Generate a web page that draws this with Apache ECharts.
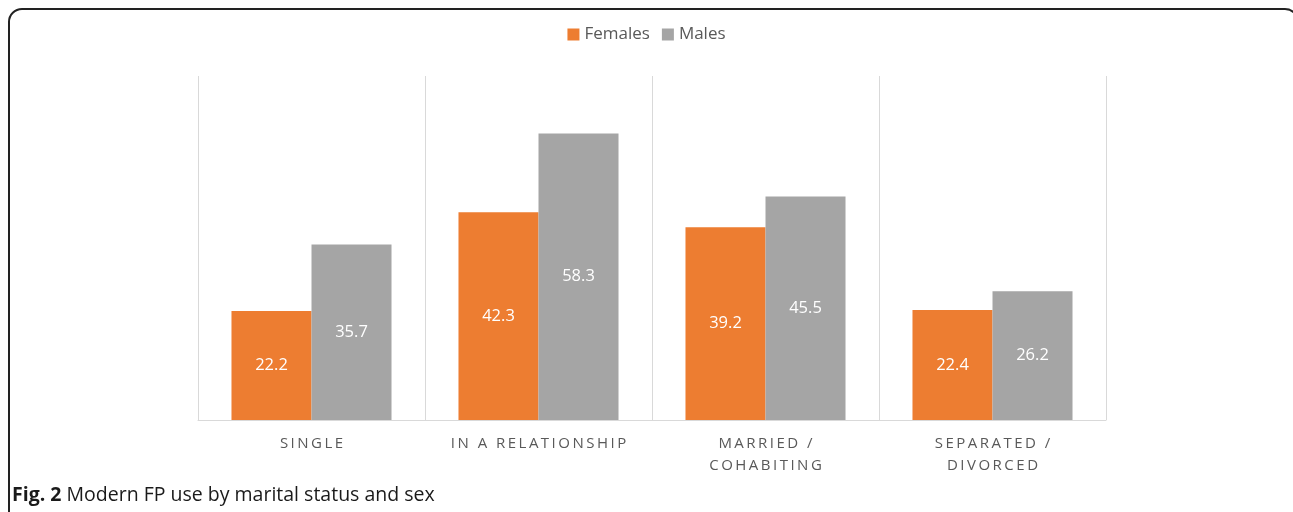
<!DOCTYPE html>
<html>
<head>
<meta charset="utf-8">
<script src="https://cdn.jsdelivr.net/npm/echarts@6/dist/echarts.min.js"></script>
<style>
  html, body { margin: 0; padding: 0; background: #fff; }
  #chart { width: 1293px; height: 512px; }
</style>
</head>
<body>
<div id="chart"></div>
<script>
// data
var categories = ["SINGLE", "IN A RELATIONSHIP", "MARRIED /\nCOHABITING", "SEPARATED /\nDIVORCED"];
var females = [22.2, 42.3, 39.2, 22.4];
var males = [35.7, 58.3, 45.5, 26.2];

// spread letters out like the original's tracked caps
function spaced(s) {
  return s.split("\n").map(function (line) {
    return line.split("").join("\u2009");
  }).join("\n");
}

var chart = echarts.init(document.getElementById("chart"));
var font = "'Open Sans', 'Noto Sans', sans-serif";

var option = {
  animation: false,
  textStyle: { fontFamily: font },
  legend: {
    top: 21,
    left: "center",
    itemWidth: 12,
    itemHeight: 12,
    itemGap: 12,
    icon: "rect",
    textStyle: { fontSize: 17, color: "#595959", fontFamily: font },
    data: ["Females", "Males"]
  },
  grid: { left: 198, right: 187, top: 76, bottom: 92 },
  xAxis: {
    type: "category",
    data: categories.map(spaced),
    axisLine: { show: true, lineStyle: { color: "#d9d9d9", width: 1 } },
    axisTick: { show: false },
    splitLine: { show: true, interval: 0, lineStyle: { color: "#d9d9d9", width: 1 } },
    axisLabel: {
      interval: 0,
      margin: 13,
      color: "#595959",
      fontSize: 15,
      lineHeight: 22,
      fontFamily: font
    }
  },
  yAxis: {
    type: "value",
    min: 0,
    max: 70,
    show: false
  },
  series: [
    {
      name: "Females",
      type: "bar",
      data: females,
      barGap: "0%",
      barCategoryGap: "29.5%",
      itemStyle: { color: "#ed7d31" },
      label: { show: true, position: "inside", color: "#fff", fontSize: 16.5, fontFamily: font }
    },
    {
      name: "Males",
      type: "bar",
      data: males,
      barGap: "0%",
      barCategoryGap: "29.5%",
      itemStyle: { color: "#a5a5a5" },
      label: { show: true, position: "inside", color: "#fff", fontSize: 16.5, fontFamily: font }
    }
  ],
  graphic: [
    {
      type: "rect",
      shape: { x: 9, y: 9, width: 1289, height: 540, r: 13 },
      style: { fill: "none", stroke: "#222", lineWidth: 2 },
      silent: true
    },
    {
      type: "text",
      left: 12,
      top: 485,
      style: {
        text: "{b|Fig. 2} Modern FP use by marital status and sex",
        fontSize: 19.5,
        fill: "#1a1a1a",
        fontFamily: font,
        rich: {
          b: { fontWeight: "bold", fontSize: 19.5, fill: "#1a1a1a", fontFamily: font }
        }
      }
    }
  ]
};
chart.setOption(option);
</script>
</body>
</html>
